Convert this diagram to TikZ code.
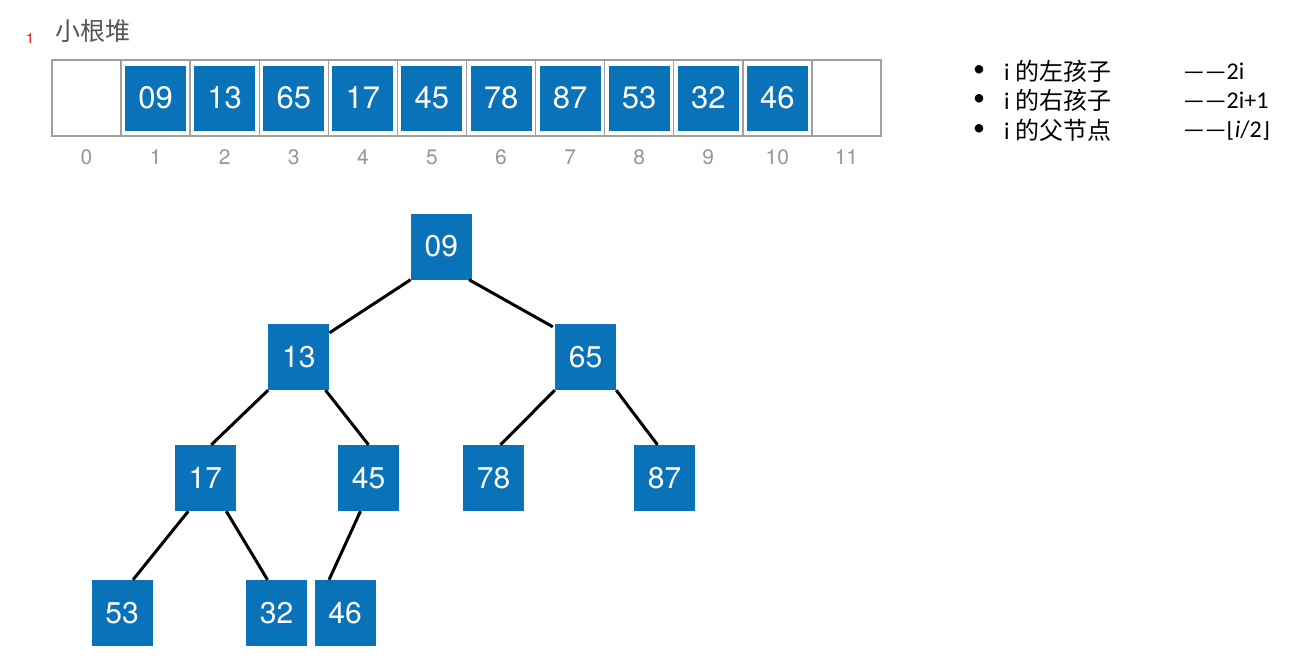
\documentclass[tikz,border=0pt]{standalone}
\usepackage{fontspec}
\setmainfont{TeX Gyre Heros}
\newfontfamily\cjkf{Noto Sans CJK SC}
\newfontfamily\calf{Carlito}
\newfontfamily\djv{DejaVu Sans}
\definecolor{heapblue}{RGB}{10,114,185}
\definecolor{cellgray}{RGB}{160,160,160}
\definecolor{idxgray}{RGB}{150,150,150}
\definecolor{titlegray}{RGB}{85,85,85}
\begin{document}
\begin{tikzpicture}[x=1pt,y=-1pt,
  bluebox/.style={fill=heapblue,text=white,minimum width=61pt,minimum height=65pt,inner sep=0pt,font=\fontsize{31}{32}\selectfont},
  treebox/.style={fill=heapblue,text=white,minimum width=61pt,minimum height=66pt,inner sep=0pt,font=\fontsize{30}{32}\selectfont},
  cellbox/.style={draw=cellgray,line width=1.4pt,minimum width=69.08pt,minimum height=76pt,inner sep=0pt},
  idx/.style={text=idxgray,font=\fontsize{21}{22}\selectfont,inner sep=0pt},
  edge/.style={line width=3pt,black},
  listtxt/.style={anchor=west,inner sep=0pt,font=\cjkf\fontsize{24}{25}\selectfont},
  listval/.style={anchor=west,inner sep=0pt,font=\calf\fontsize{24}{25}\selectfont}
]
\useasboundingbox (0,0) rectangle (1294,662);
\fill[white] (0,0) rectangle (1294,662);

% red marker and title
\node[text=red,font=\fontsize{14}{15}\selectfont,inner sep=0pt] (mark) at (30,39) {1};
\node[text=titlegray,font=\cjkf\fontsize{25}{27}\selectfont,inner sep=0pt,anchor=west] (title) at (55,31) {小根堆};

% array cells
\foreach \i in {0,...,11}{
  \node[cellbox] (c\i) at ({86.54+69.08*\i},98) {};
  \node[idx] (x\i) at ({86.54+69.08*\i},157) {\i};
}
\foreach \v [count=\i] in {09,13,65,17,45,78,87,53,32,46}{
  \node[bluebox] (a\i) at (c\i.center) {\v};
}

% tree
\node[treebox] (t09) at (441.3,246.5) {09};
\node[treebox] (t13) at (298.8,357) {13};
\node[treebox] (t65) at (585.5,357) {65};
\node[treebox] (t17) at (205.3,478) {17};
\node[treebox] (t45) at (368.5,478) {45};
\node[treebox] (t78) at (493.5,478) {78};
\node[treebox] (t87) at (664.5,478) {87};
\node[treebox] (t53) at (122,613) {53};
\node[treebox] (t32) at (276.5,613) {32};
\node[treebox] (t46) at (345,613) {46};

\draw[edge] (t09.south west) -- ([yshift=-9pt]t13.north east);
\draw[edge] ([xshift=-3pt]t09.south east) -- ([xshift=-2pt,yshift=-3pt]t65.north west);
\draw[edge] (t13.south west) -- ([xshift=6pt]t17.north);
\draw[edge] ([xshift=-4pt]t13.south east) -- (t45.north);
\draw[edge] (t65.south west) -- ([xshift=7pt]t78.north);
\draw[edge] (t65.south east) -- ([xshift=-7pt]t87.north);
\draw[edge] ([xshift=-17pt]t17.south) -- ([xshift=11pt]t53.north);
\draw[edge] ([xshift=21pt]t17.south) -- ([xshift=-9pt]t32.north);
\draw[edge] ([xshift=-8pt]t45.south) -- ([xshift=-16pt]t46.north);

% list
\node[listval] (b1) at (973,71) {•};
\node[listval] (b2) at (973,100) {•};
\node[listval] (b3) at (973,130) {•};
\node[listtxt] (l1) at (1004,71) {{\calf i} 的左孩子};
\node[listtxt] (l2) at (1004,100) {{\calf i} 的右孩子};
\node[listtxt] (l3) at (1004,130) {{\calf i} 的父节点};
\node[listval] (v1) at (1183,71) {——2i};
\node[listval] (v2) at (1183,100) {——2i+1};
\node[listval] (v3) at (1183,131) {——{\djv\fontsize{21}{22}\selectfont⌊}{\itshape i}/2{\djv\fontsize{21}{22}\selectfont⌋}};
\end{tikzpicture}
\end{document}
